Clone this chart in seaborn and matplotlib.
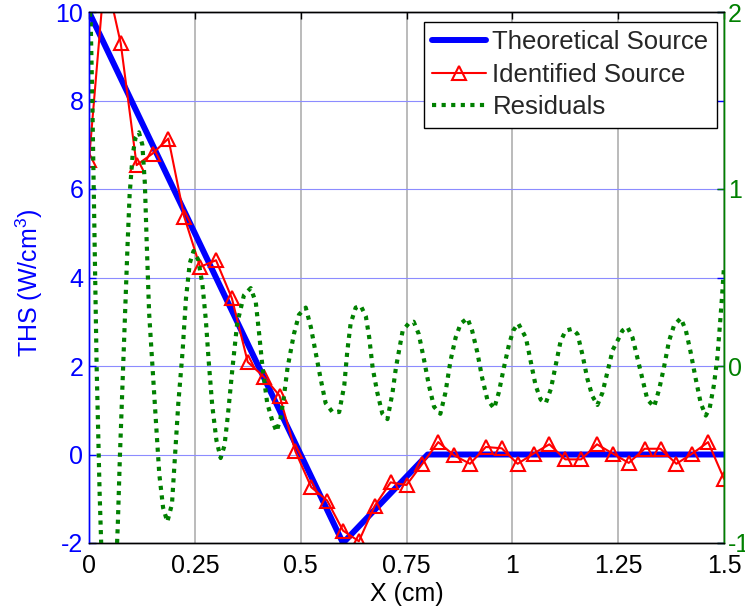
import matplotlib
matplotlib.use("Agg")
import matplotlib.pyplot as plt
import seaborn as sns

# ---------------- data ----------------
theo_x = [0.0, 0.6, 0.8, 1.5]
theo_y = [10.0, -2.0, 0.0, 0.0]

ident_x = [0.0, 0.0375, 0.075, 0.1125, 0.15, 0.1875, 0.225, 0.2625, 0.3, 0.3375,
           0.375, 0.4125, 0.45, 0.4875, 0.525, 0.5625, 0.6, 0.6375, 0.675, 0.7125,
           0.75, 0.7875, 0.825, 0.8625, 0.9, 0.9375, 0.975, 1.0125, 1.05, 1.0875,
           1.125, 1.1625, 1.2, 1.2375, 1.275, 1.3125, 1.35, 1.3875, 1.425, 1.4625, 1.5]
ident_y = [6.65, 10.9, 9.29, 6.54, 6.80, 7.14, 5.37, 4.24, 4.39, 3.53,
           2.09, 1.76, 1.33, 0.07, -0.74, -1.04, -1.72, -1.96, -1.16, -0.63,
           -0.69, -0.21, 0.28, -0.02, -0.21, 0.17, 0.14, -0.21, 0.02, 0.23,
           -0.11, -0.11, 0.23, 0.02, -0.19, 0.13, 0.13, -0.21, 0.02, 0.28, -0.55]

res_x = [0.000, 0.004, 0.008, 0.012, 0.015, 0.018, 0.021, 0.025, 0.029, 0.035,
         0.045, 0.055, 0.063, 0.068, 0.073, 0.079, 0.085, 0.091, 0.096, 0.103,
         0.110, 0.118, 0.126, 0.132, 0.136, 0.142, 0.150, 0.158, 0.166, 0.175,
         0.185, 0.196, 0.203, 0.211, 0.221, 0.229, 0.238, 0.247, 0.258, 0.268,
         0.276, 0.283, 0.291, 0.301, 0.311, 0.320, 0.328, 0.339, 0.350, 0.366,
         0.382, 0.394, 0.402, 0.410, 0.421, 0.433, 0.443, 0.452, 0.460, 0.469,
         0.484, 0.496, 0.512, 0.524, 0.535, 0.547, 0.559, 0.575, 0.591, 0.603,
         0.610, 0.618, 0.630, 0.642, 0.654, 0.662, 0.670, 0.681, 0.693, 0.705,
         0.717, 0.725, 0.741, 0.755, 0.767, 0.779, 0.791, 0.803, 0.815, 0.830,
         0.842, 0.854, 0.866, 0.878, 0.894, 0.905, 0.917, 0.929, 0.941, 0.957,
         0.968, 0.980, 0.992, 1.002, 1.014, 1.032, 1.043, 1.055, 1.067, 1.079,
         1.091, 1.103, 1.114, 1.126, 1.142, 1.154, 1.166, 1.177, 1.189, 1.201,
         1.213, 1.225, 1.237, 1.250, 1.260, 1.272, 1.284, 1.296, 1.307, 1.319,
         1.335, 1.347, 1.358, 1.370, 1.382, 1.398, 1.410, 1.421, 1.433, 1.445,
         1.457, 1.466, 1.476, 1.484, 1.490, 1.495, 1.500]
res_y = [2.05, 1.95, 1.47, 0.88, 0.40, 0.00, -0.31, -0.71, -1.02, -1.40,
         -1.65, -1.55, -1.20, -0.90, -0.51, -0.11, 0.28, 0.68, 0.97, 1.19,
         1.29, 1.32, 1.25, 1.03, 0.72, 0.30, -0.01, -0.31, -0.61, -0.80,
         -0.88, -0.78, -0.51, -0.21, 0.08, 0.38, 0.58, 0.65, 0.60, 0.46,
         0.26, 0.02, -0.22, -0.42, -0.52, -0.45, -0.28, -0.01, 0.24, 0.40,
         0.44, 0.36, 0.18, -0.01, -0.21, -0.31, -0.37, -0.30, -0.18, -0.01,
         0.18, 0.29, 0.33, 0.22, 0.08, -0.07, -0.21, -0.26, -0.26, -0.11,
         0.08, 0.24, 0.33, 0.34, 0.28, 0.16, -0.01, -0.15, -0.27, -0.30,
         -0.15, -0.01, 0.20, 0.24, 0.25, 0.18, 0.04, -0.11, -0.23, -0.27,
         -0.15, 0.03, 0.16, 0.24, 0.27, 0.20, 0.08, -0.07, -0.19, -0.24,
         -0.15, -0.01, 0.12, 0.20, 0.24, 0.16, 0.03, -0.11, -0.19, -0.21,
         -0.13, 0.01, 0.14, 0.20, 0.21, 0.18, 0.06, -0.07, -0.17, -0.22,
         -0.15, -0.03, 0.09, 0.15, 0.20, 0.22, 0.16, 0.04, -0.07, -0.19,
         -0.23, -0.13, -0.01, 0.14, 0.23, 0.27, 0.20, 0.08, -0.07, -0.21,
         -0.28, -0.24, -0.11, 0.04, 0.22, 0.38, 0.56]

x_ticks = [0, 0.25, 0.5, 0.75, 1.0, 1.25, 1.5]
x_tick_labels = ["0", "0.25", "0.5", "0.75", "1", "1.25", "1.5"]
left_ticks = [-2, 0, 2, 4, 6, 8, 10]
right_ticks = [-1, 0, 1, 2]

# ---------------- style ----------------
sns.set_style("white")
plt.rcParams["font.family"] = ["Liberation Sans", "DejaVu Sans"]
plt.rcParams["axes.unicode_minus"] = False
plt.rcParams["mathtext.fontset"] = "custom"
plt.rcParams["mathtext.rm"] = "Liberation Sans"

BLUE = (0, 0, 1)
GREEN = (0, 0.5, 0)
RED = (1, 0, 0)
FS = 18

fig = plt.figure(figsize=(7.45, 6.09), dpi=100)
fig.patch.set_facecolor("white")
ax1 = fig.add_axes([89 / 745, 1 - 543 / 609, (724 - 89) / 745, (543 - 12) / 609])
ax2 = ax1.twinx()

sns.lineplot(x=theo_x, y=theo_y, ax=ax1, color=BLUE, lw=4.3, sort=False,
             estimator=None, label="Theoretical Source", legend=False)
sns.lineplot(x=ident_x, y=ident_y, ax=ax1, color=RED, lw=1.5, sort=False,
             estimator=None, marker="^", markersize=10.5, markerfacecolor="none",
             markeredgecolor=RED, markeredgewidth=1.5,
             label="Identified Source", legend=False)
sns.lineplot(x=res_x, y=res_y, ax=ax2, color=GREEN, lw=3.0, sort=False,
             estimator=None, linestyle=(0, (1, 1.3)), dash_capstyle="butt",
             label="Residuals", legend=False)

for a in (ax1, ax2):
    lg = a.get_legend()
    if lg is not None:
        lg.remove()

ax1.set_xlim(0, 1.5)
ax1.set_ylim(-2, 10)
ax2.set_ylim(-1, 2)

ax1.set_xticks(x_ticks)
ax1.set_xticklabels(x_tick_labels)
ax1.set_yticks(left_ticks)
ax1.set_yticklabels([str(v) for v in left_ticks])
ax2.set_yticks(right_ticks)
ax2.set_yticklabels([str(v) for v in right_ticks])

ax1.set_axisbelow(True)
ax1.xaxis.grid(True, color="#a8a8a8", lw=1.1)
ax1.yaxis.grid(True, color="#8c8cff", lw=0.8)

ax1.tick_params(axis="x", direction="in", top=True, length=5, width=1,
                labelsize=FS, pad=8, colors="black")
ax1.tick_params(axis="y", direction="in", length=5, width=1, labelsize=FS,
                pad=4, colors=BLUE, right=True, labelright=False)
ax2.tick_params(axis="y", direction="in", length=5, width=1, labelsize=FS,
                pad=3, colors=GREEN)

for a in (ax1, ax2):
    a.spines["top"].set_color("black")
    a.spines["bottom"].set_color("black")
    a.spines["left"].set_color(BLUE)
    a.spines["right"].set_color(GREEN)
    for s in a.spines.values():
        s.set_linewidth(1.0)
        s.set_visible(True)

ax1.set_xlabel("X (cm)", fontsize=FS, color="black", labelpad=3)
ax1.set_ylabel(r"THS (W/cm$^3$)", fontsize=FS, color=BLUE)
ax1.yaxis.set_label_coords(-0.070, 0.49)

handles = [l for l in ax1.get_lines() if not l.get_label().startswith("_")] + \
          [l for l in ax2.get_lines() if not l.get_label().startswith("_")]
labels = [h.get_label() for h in handles]
leg = ax2.legend(handles, labels, loc="upper right",
                 bbox_to_anchor=(717 / 745, 1 - 22 / 609),
                 bbox_transform=fig.transFigure, borderaxespad=0,
                 fontsize=18.5, frameon=True, fancybox=False, framealpha=1,
                 edgecolor="black", handlelength=2.1, handletextpad=0.25,
                 labelspacing=0.33, borderpad=0.33, numpoints=1)
leg.get_frame().set_linewidth(1.0)

fig.savefig("out.png", dpi=100, facecolor="white")
